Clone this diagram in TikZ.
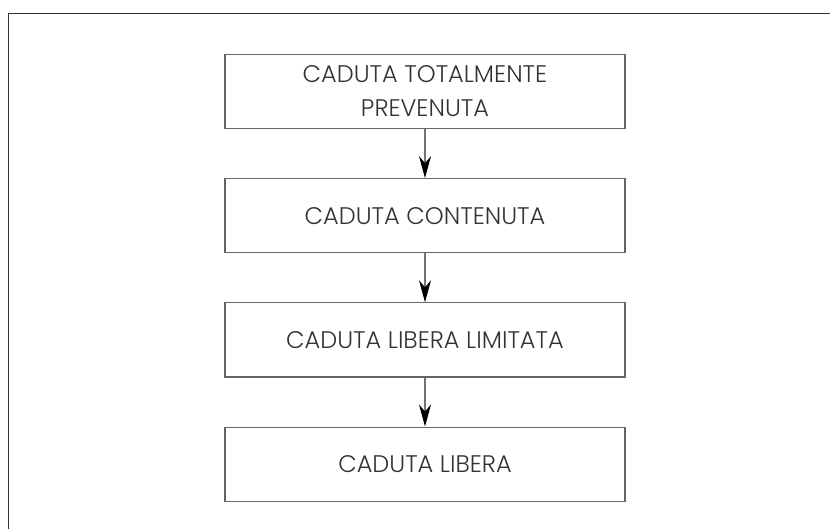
\documentclass[tikz,border=0pt]{standalone}
\usepackage{fontspec}
\setmainfont{Poppins}[UprightFont=* Light]
\usetikzlibrary{positioning,arrows.meta}
\begin{document}
\begin{tikzpicture}[x=1pt,y=-1pt,
  stato/.style={draw=black!60,line width=1.2pt,minimum width=400pt,minimum height=74pt,
    align=center,inner sep=0pt,text=black!80,font=\fontsize{24}{34}\selectfont},
  freccia/.style={-{Stealth[length=22pt,width=12pt,inset=7pt,color=black]},draw=black!55,line width=1.2pt},
  node distance=49pt]
\useasboundingbox (0,0) rectangle (830,529);
%% cornice
\draw[black!80,line width=1.6pt] (8.5,529) -- (8.5,13.5) -- (830,13.5);
%% stati
\node[stato] (prev) at (425,91.5) {CADUTA TOTALMENTE\\PREVENUTA};
\node[stato, below=of prev] (cont) {CADUTA CONTENUTA};
\node[stato, below=of cont] (lim) {CADUTA LIBERA LIMITATA};
\node[stato, below=of lim] (lib) {CADUTA LIBERA};
%% frecce
\draw[freccia] (prev) -- (cont);
\draw[freccia] (cont) -- (lim);
\draw[freccia] (lim) -- (lib);
\end{tikzpicture}
\end{document}
